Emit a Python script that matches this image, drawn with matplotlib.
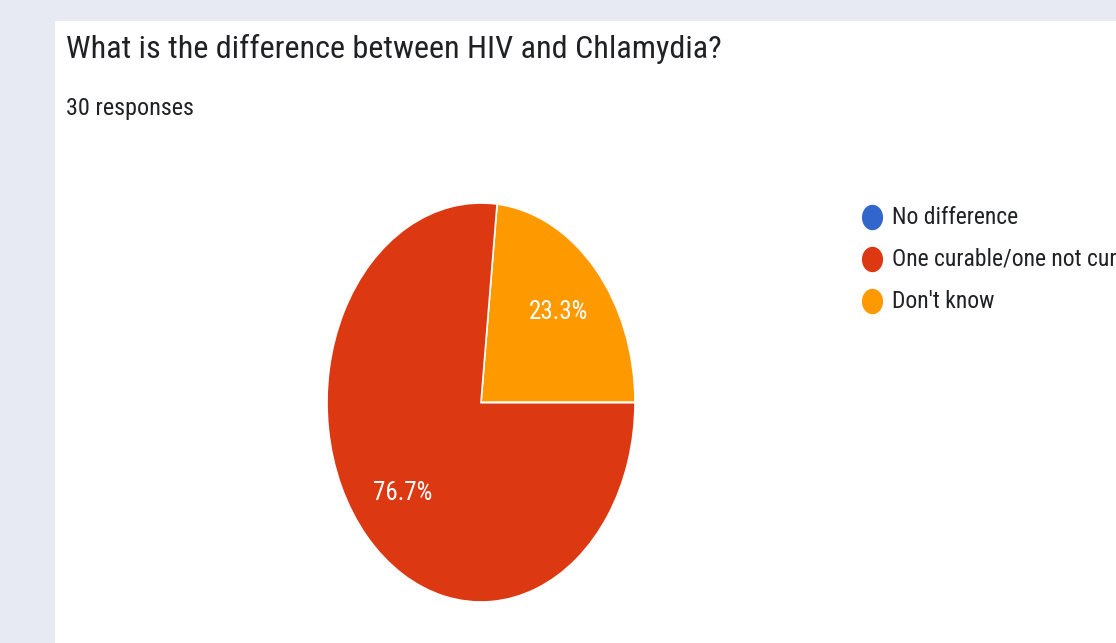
import matplotlib
matplotlib.use("Agg")
import matplotlib.pyplot as plt
import numpy as np
from matplotlib.lines import Line2D
from matplotlib.patches import Rectangle
from matplotlib.path import Path

title = "What is the difference between HIV and Chlamydia?"
subtitle = "30 responses"

# legend order
answers = ["No difference", "One curable/one not curable", "Don't know"]
counts = [0, 23, 7]
colors = ["#3366cc", "#dc3912", "#ff9900"]

plt.rcParams['font.family'] = ['Roboto Condensed', 'DejaVu Sans']

W, H = 1116, 643
fig = plt.figure(figsize=(W / 100, H / 100), dpi=100)
fig.patch.set_facecolor("#e7eaf3")

# white card behind everything
fig.patches.append(Rectangle((55 / W, 0), 1 - 55 / W, 1 - 21 / H,
                             transform=fig.transFigure, facecolor="white",
                             edgecolor="none", zorder=-5))

fig.text(66 / W, 1 - 58 / H, title, fontsize=23.2, color="#202124", va="baseline")
fig.text(66 / W, 1 - 115 / H, subtitle, fontsize=17.4, color="#202124", va="baseline")

# pie drawn counter-clockwise from 3 o'clock: Don't know, then One curable
order = [2, 1, 0]
vals = [counts[i] for i in order]
cols = [colors[i] for i in order]


def pct_label(p):
    return f"{p:.1f}%" if p > 0 else ""


ax = fig.add_axes([327 / W, 41 / H, 308 / W, 399 / H])
ax.pie(vals, colors=cols, startangle=0, counterclock=True,
       autopct=pct_label, pctdistance=0.68,
       wedgeprops=dict(edgecolor="white", linewidth=1.2),
       textprops=dict(color="white", fontsize=18))
ax.set_aspect("auto")
ax.set_xlim(-1, 1)
ax.set_ylim(-1, 1)
ax.axis("off")

# legend with slightly tall dots
t = np.linspace(0, 2 * np.pi, 60)
dot = Path(np.column_stack([np.cos(t), 1.22 * np.sin(t)]), closed=True)
for i, (name, c) in enumerate(zip(answers, colors)):
    y = 1 - (217 + 42 * i) / H
    fig.add_artist(Line2D([872 / W], [y], transform=fig.transFigure,
                          marker=dot, markersize=17.3, color=c, linestyle="none"))
    fig.text(892 / W, y, name, fontsize=17, color="#202124", va="center")

fig.savefig("out.png", dpi=100, facecolor=fig.get_facecolor())
